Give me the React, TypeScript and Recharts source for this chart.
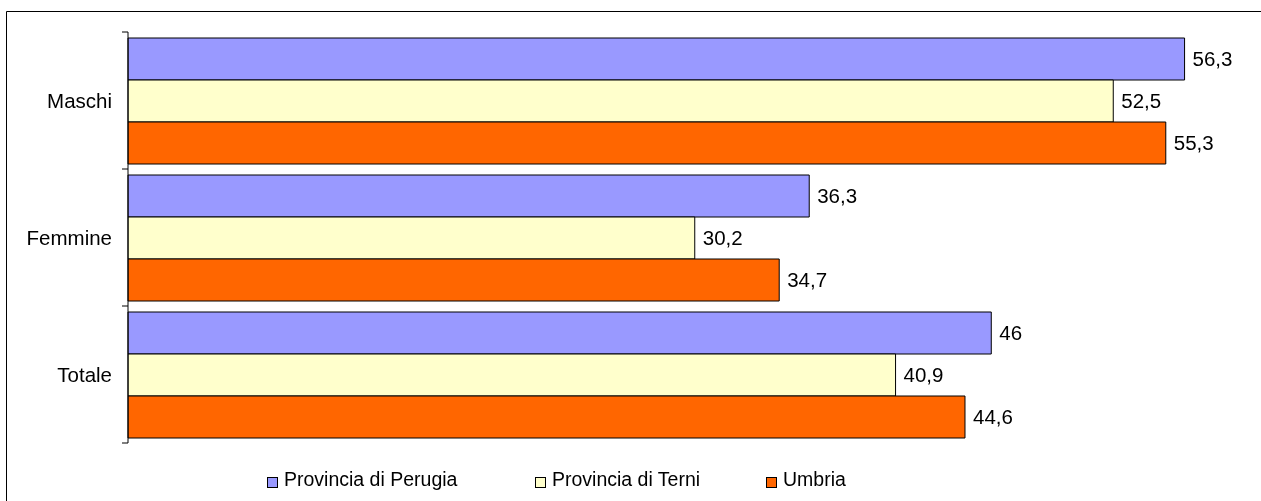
import React from 'react';
import { BarChart, Bar, XAxis, YAxis, LabelList } from 'recharts';

const categories = ['Maschi', 'Femmine', 'Totale'];
const perugia = [56.3, 36.3, 46];
const terni = [52.5, 30.2, 40.9];
const umbria = [55.3, 34.7, 44.6];
const seriesNames = ['Provincia di Perugia', 'Provincia di Terni', 'Umbria'];
const seriesKeys = ['perugia', 'terni', 'umbria'];
const seriesColors = ['#9999FF', '#FFFFCC', '#FF6600'];
const xDomain = [0, 60];

const data = categories.map((name, i) => ({
  name,
  perugia: perugia[i],
  terni: terni[i],
  umbria: umbria[i],
}));

const W = 1261;
const H = 501;
const margin = { top: 32, right: 7, bottom: 58, left: 0 };
const AXIS_W = 128;
const BAND = (H - margin.top - margin.bottom) / categories.length;
const FONT = '"Liberation Sans", Arial, sans-serif';
const legendLeft = [267, 535, 766];

const fmt = (v: any) => String(v).replace('.', ',');

const CategoryTick = (props: any) => {
  const { y, payload, index } = props;
  const ax = margin.left + AXIS_W;
  return (
    <g>
      <line x1={ax - 6} x2={ax} y1={y - BAND / 2} y2={y - BAND / 2} stroke="#000" />
      {index === categories.length - 1 && (
        <line x1={ax - 6} x2={ax} y1={y + BAND / 2} y2={y + BAND / 2} stroke="#000" />
      )}
      <text x={ax - 16} y={y} dy={7} textAnchor="end" fontSize={20.5} fill="#000" fontFamily={FONT}>
        {payload.value}
      </text>
    </g>
  );
};

export default function App() {
  return (
    <div style={{ position: 'fixed', left: 0, top: 0, width: W, height: H, fontFamily: FONT }}>
      <svg width={W} height={H} style={{ position: 'absolute', left: 0, top: 0 }}>
        <path d={`M6.5 ${H} V11.5 H${W}`} fill="none" stroke="#000" strokeWidth={1} />
      </svg>
      <div style={{ position: 'absolute', left: 0, top: 0 }}>
        <BarChart width={W} height={H} data={data} layout="vertical" margin={margin} barCategoryGap={6} barGap={0}>
          <XAxis type="number" domain={xDomain} hide />
          <YAxis
            type="category"
            dataKey="name"
            width={AXIS_W}
            axisLine={{ stroke: '#000' }}
            tickLine={false}
            tick={<CategoryTick />}
          />
          {seriesKeys.map((k, i) => (
            <Bar key={k} dataKey={k} name={seriesNames[i]} fill={seriesColors[i]} stroke="#000" strokeWidth={1} isAnimationActive={false}>
              <LabelList dataKey={k} position="right" offset={8} fill="#000" fontSize={20.5} fontFamily={FONT} formatter={fmt} />
            </Bar>
          ))}
        </BarChart>
      </div>
      {seriesNames.map((n, i) => (
        <div
          key={n}
          style={{ position: 'absolute', left: legendLeft[i], top: 469, height: 20, lineHeight: '20px', fontSize: 19.5, color: '#000', whiteSpace: 'nowrap', paddingLeft: 17 }}
        >
          <span style={{ position: 'absolute', left: 0, top: 8, width: 9, height: 9, background: seriesColors[i], border: '1px solid #000' }} />
          {n}
        </div>
      ))}
    </div>
  );
}
